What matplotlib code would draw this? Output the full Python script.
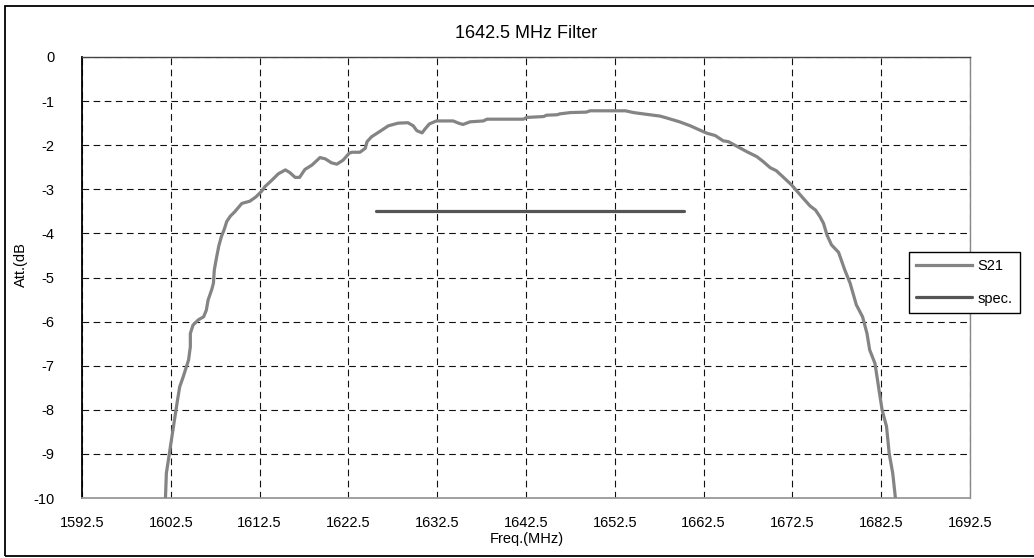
import matplotlib
matplotlib.use("Agg")
import matplotlib.pyplot as plt
from matplotlib.patches import Rectangle

plt.rcParams['font.family'] = ['Liberation Sans', 'DejaVu Sans']

# S21 measured response (MHz, dB)
s21_freq = [1601.9, 1602.0, 1602.4, 1602.8, 1603.2, 1603.5, 1603.9, 1604.5, 1604.7, 1604.7,
            1605.0, 1605.6, 1606.2, 1606.5, 1606.7, 1607.1, 1607.3, 1607.4, 1607.6, 1607.9,
            1608.2, 1608.5, 1608.8, 1609.2, 1609.7, 1610.5, 1611.4, 1612.1, 1612.7, 1613.1,
            1613.9, 1614.6, 1615.4, 1615.9, 1616.5, 1617.0, 1617.6, 1618.4, 1619.3, 1619.9,
            1620.6, 1621.2, 1621.9, 1622.6, 1622.9, 1623.8, 1624.4, 1624.6, 1625.1, 1626.1,
            1627.0, 1628.1, 1629.2, 1629.8, 1630.2, 1630.8, 1631.1, 1631.6, 1632.4, 1634.3,
            1634.9, 1635.4, 1636.2, 1637.7, 1638.1, 1642.2, 1642.6, 1644.5, 1644.8, 1646.0,
            1646.3, 1647.5, 1649.3, 1649.7, 1653.7, 1654.6, 1655.7, 1657.6, 1658.3, 1659.8,
            1661.0, 1662.1, 1662.9, 1663.8, 1664.7, 1665.3, 1666.2, 1667.4, 1668.5, 1669.2,
            1670.0, 1670.7, 1671.5, 1672.4, 1673.4, 1673.7, 1674.5, 1675.1, 1675.6, 1676.0,
            1676.4, 1676.9, 1677.7, 1678.4, 1679.0, 1679.7, 1680.4, 1680.9, 1681.2, 1681.8,
            1682.2, 1682.6, 1683.1, 1683.4, 1683.8, 1684.1]
s21_db = [-10.0, -9.44, -8.91, -8.38, -7.85, -7.48, -7.25, -6.87, -6.57, -6.27,
          -6.08, -5.96, -5.89, -5.74, -5.51, -5.28, -5.13, -4.83, -4.60, -4.29,
          -4.07, -3.92, -3.73, -3.61, -3.51, -3.32, -3.27, -3.17, -3.05, -2.94,
          -2.79, -2.65, -2.56, -2.62, -2.73, -2.73, -2.55, -2.45, -2.28, -2.31,
          -2.40, -2.43, -2.34, -2.18, -2.16, -2.16, -2.07, -1.92, -1.81, -1.68,
          -1.56, -1.50, -1.49, -1.56, -1.67, -1.72, -1.64, -1.52, -1.45, -1.45,
          -1.50, -1.53, -1.47, -1.45, -1.41, -1.41, -1.37, -1.35, -1.32, -1.31,
          -1.29, -1.26, -1.25, -1.22, -1.22, -1.26, -1.29, -1.34, -1.38, -1.47,
          -1.56, -1.66, -1.73, -1.78, -1.90, -1.92, -2.02, -2.15, -2.26, -2.37,
          -2.51, -2.58, -2.73, -2.90, -3.13, -3.20, -3.38, -3.47, -3.62, -3.77,
          -4.04, -4.26, -4.43, -4.83, -5.13, -5.62, -5.89, -6.27, -6.64, -6.95,
          -7.48, -8.00, -8.38, -8.99, -9.44, -10.0]

# Specification line
spec_freq = [1625.6, 1660.3]
spec_db = [-3.5, -3.5]

x_ticks = [1592.5, 1602.5, 1612.5, 1622.5, 1632.5, 1642.5, 1652.5, 1662.5, 1672.5, 1682.5, 1692.5]
x_labels = ["1592.5", "1602.5", "1612.5", "1622.5", "1632.5", "1642.5",
            "1652.5", "1662.5", "1672.5", "1682.5", "1692.5"]
y_ticks = [0, -1, -2, -3, -4, -5, -6, -7, -8, -9, -10]
y_labels = ["0", "-1", "-2", "-3", "-4", "-5", "-6", "-7", "-8", "-9", "-10"]

W, H = 1034, 558
fig = plt.figure(figsize=(W / 100, H / 100), dpi=100)
ax = fig.add_axes([82 / W, 1 - 498 / H, (970 - 82) / W, (498 - 57) / H])

ax.plot(s21_freq, s21_db, color='#848484', lw=2.3, label='S21', solid_joinstyle='round', zorder=3)
ax.plot(spec_freq, spec_db, color='#555555', lw=2.3, label='spec.', solid_capstyle='round', zorder=3)

ax.set_xlim(1592.5, 1692.5)
ax.set_ylim(-10, 0)
ax.set_xticks(x_ticks)
ax.set_xticklabels(x_labels)
ax.set_yticks(y_ticks)
ax.set_yticklabels(y_labels)
ax.tick_params(axis='both', length=0, labelsize=10.5, colors='black')
ax.tick_params(axis='x', pad=13)
ax.tick_params(axis='y', pad=20)

ax.grid(True, color='#111111', lw=0.8, linestyle=(0, (6, 4)))
ax.set_axisbelow(True)

ax.spines['left'].set_color('black')
ax.spines['left'].set_linewidth(1.3)
ax.spines['top'].set_color('#444444')
ax.spines['top'].set_linewidth(1.0)
ax.spines['right'].set_color('#888888')
ax.spines['right'].set_linewidth(1.0)
ax.spines['bottom'].set_color('#999999')
ax.spines['bottom'].set_linewidth(1.3)

fig.text(526 / W, 1 - 33 / H, "1642.5 MHz Filter", ha='center', va='center', fontsize=13)
fig.text(527 / W, 1 - 539 / H, "Freq.(MHz)", ha='center', va='center', fontsize=10.5)
fig.text(21 / W, 1 - 265 / H, "Att.(dB", ha='center', va='center', rotation=90, fontsize=10.5)

leg = fig.legend(loc='upper left', bbox_to_anchor=(909 / W, 1 - 252 / H), fontsize=10.5,
                 frameon=True, fancybox=False, framealpha=1.0, handlelength=3.8,
                 labelspacing=1.25, borderpad=0.5, handletextpad=0.4, borderaxespad=0)
leg.get_frame().set_edgecolor('black')
leg.get_frame().set_facecolor('white')
leg.get_frame().set_linewidth(1.0)

# outer chart border
fig.patches.append(Rectangle((5 / W, 1 - 556 / H), 1.2, (556 - 6) / H, transform=fig.transFigure,
                             fill=False, edgecolor='black', lw=1.3))

fig.savefig("out.png", dpi=100)
